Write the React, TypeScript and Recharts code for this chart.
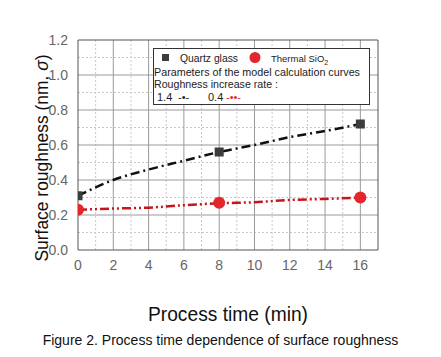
import React from 'react';
import {
  ComposedChart,
  Line,
  Scatter,
  XAxis,
  YAxis,
  ReferenceLine,
  Legend,
} from 'recharts';

// measured points
const measuredTimes = [0, 8, 16];
const quartzMeasured = [0.31, 0.56, 0.72];
const sio2Measured = [0.23, 0.27, 0.3];

// model calculation curves
const curveTimes = [0, 2, 4, 6, 8, 10, 12, 14, 16];
const quartzCurve = [0.31, 0.4, 0.46, 0.51, 0.56, 0.6, 0.645, 0.68, 0.72];
const sio2Curve = [0.23, 0.237, 0.242, 0.256, 0.267, 0.273, 0.286, 0.292, 0.3];

const xTicks = [0, 2, 4, 6, 8, 10, 12, 14, 16];
const xMinor = [1, 3, 5, 7, 9, 11, 13, 15];
const yTicks = [0, 0.2, 0.4, 0.6, 0.8, 1.0, 1.2];
const yMinor = [0.1, 0.3, 0.5, 0.7, 0.9, 1.1];

const curveData = curveTimes.map((t, i) => ({ t, quartz: quartzCurve[i], sio2: sio2Curve[i] }));
const quartzPoints = measuredTimes.map((t, i) => ({ t, v: quartzMeasured[i] }));
const sio2Points = measuredTimes.map((t, i) => ({ t, v: sio2Measured[i] }));

const FONT = '"Liberation Sans", Arial, sans-serif';
const RED = '#e3262b';
const DARK = '#3c3c3c';

// legend box drawn as an svg overlay on top of the plot
const LegendBox = () => (
  <svg
    width={441}
    height={357}
    style={{ position: 'absolute', left: 0, top: 0, pointerEvents: 'none' }}
    fontFamily={FONT}
    fontSize={11}
    fill="#222"
  >
    <rect x={153.5} y={48.5} width={216} height={56} fill="#fff" stroke="#333" />
    <rect x={162} y={54} width={7} height={7} fill={DARK} />
    <text x={180} y={62} textLength={58} lengthAdjust="spacingAndGlyphs">Quartz glass</text>
    <circle cx={255} cy={57.5} r={5.5} fill={RED} />
    <text x={271} y={62} fontSize={9.5}>
      Thermal SiO<tspan dy={3} fontSize={7}>2</tspan>
    </text>
    <text x={154} y={76} textLength={206} lengthAdjust="spacingAndGlyphs">
      Parameters of the model calculation curves
    </text>
    <text x={154} y={88} textLength={124} lengthAdjust="spacingAndGlyphs">
      Roughness increase rate :
    </text>
    <text x={157} y={101}>1.4</text>
    <text x={178} y={101}>-•-</text>
    <text x={208} y={101}>0.4</text>
    <text x={226} y={101} fill={RED}>-••-</text>
  </svg>
);

export default function App() {
  return (
    <div style={{ position: 'absolute', left: 0, top: 0, width: 441, height: 357, background: '#fff' }}>
      <ComposedChart
        width={441}
        height={357}
        data={curveData}
        margin={{ top: 40, right: 63, bottom: 77, left: 38 }}
      >
        <XAxis
          dataKey="t"
          type="number"
          domain={[0, 17]}
          ticks={xTicks}
          allowDataOverflow
          stroke="#555"
          tickLine={false}
          tickMargin={4}
          tick={{ fill: '#666', fontSize: 14, fontFamily: FONT }}
          label={{
            content: () => (
              <text
                x={148}
                y={321}
                textLength={160}
                lengthAdjust="spacingAndGlyphs"
                fill="#111"
                fontSize={20}
                fontFamily={FONT}
              >
                Process time (min)
              </text>
            ),
          }}
        />
        <YAxis
          type="number"
          domain={[0, 1.2]}
          ticks={yTicks}
          width={40}
          stroke="#555"
          tickLine={false}
          tickMargin={4}
          tickFormatter={(v: number) => v.toFixed(1)}
          tick={{ fill: '#666', fontSize: 14, fontFamily: FONT }}
          label={{
            content: () => (
              <text
                x={48}
                y={158}
                transform="rotate(-90,48,158)"
                textAnchor="middle"
                textLength={207}
                lengthAdjust="spacingAndGlyphs"
                fill="#111"
                fontSize={18}
                fontFamily={FONT}
              >
                Surface roughness (nm, <tspan fontStyle="italic">σ</tspan>)
              </text>
            ),
          }}
        />
        {xMinor.map((x) => (
          <ReferenceLine key={`xm${x}`} x={x} stroke="#c8c8c8" strokeDasharray="2 2" />
        ))}
        {yMinor.map((y) => (
          <ReferenceLine key={`ym${y}`} y={y} stroke="#c8c8c8" strokeDasharray="2 2" />
        ))}
        {xTicks.slice(1).map((x) => (
          <ReferenceLine key={`x${x}`} x={x} stroke="#9a9a9a" />
        ))}
        {yTicks.slice(1, -1).map((y) => (
          <ReferenceLine key={`y${y}`} y={y} stroke="#9a9a9a" />
        ))}
        <ReferenceLine y={1.2} stroke="#555" />
        <ReferenceLine x={17} stroke="#555" />
        <Line
          dataKey="quartz"
          type="monotone"
          stroke="#111"
          strokeWidth={2.5}
          strokeDasharray="9 4 2 4"
          dot={false}
          isAnimationActive={false}
        />
        <Line
          dataKey="sio2"
          type="monotone"
          stroke="#c8141c"
          strokeWidth={2.5}
          strokeDasharray="9 3 2 3 2 3"
          dot={false}
          isAnimationActive={false}
        />
        <Scatter
          data={quartzPoints}
          dataKey="v"
          isAnimationActive={false}
          shape={(p: any) => <rect x={p.cx - 4.5} y={p.cy - 4.5} width={9} height={9} fill={DARK} />}
        />
        <Scatter
          data={sio2Points}
          dataKey="v"
          isAnimationActive={false}
          shape={(p: any) => <circle cx={p.cx} cy={p.cy} r={6} fill={RED} />}
        />
        <Legend content={() => null} />
      </ComposedChart>
      <LegendBox />
      <div
        style={{
          position: 'absolute',
          left: 0,
          width: 441,
          top: 332,
          textAlign: 'center',
          fontFamily: FONT,
          fontSize: 14,
          color: '#111',
        }}
      >
        Figure 2. Process time dependence of surface roughness
      </div>
    </div>
  );
}
